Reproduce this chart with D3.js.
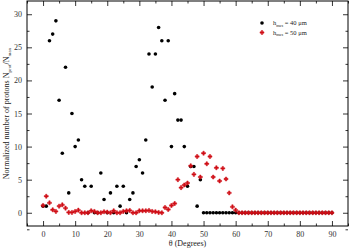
<!DOCTYPE html>
<html>
<head>
<meta charset="utf-8">
<script src="https://cdn.jsdelivr.net/npm/d3@7"></script>
<style>
  body { margin: 0; background: #fff; }
  svg { display: block; }
  .tick text { font-family: "Liberation Serif", serif; font-size: 8px; fill: #333; }
  .label { font-family: "Liberation Serif", serif; font-size: 8px; fill: #222; }
  .legend { font-family: "Liberation Serif", serif; font-size: 6.5px; fill: #222; }
</style>
</head>
<body>
<div id="app"></div>
<script>
// angles 0..90 degrees
const angles = d3.range(0, 91);

// h_max = 40 um (black)
const h40 = [1, 1, 26, 27, 29, 17, 9, 22, 3, 15,
  10, 11, 5, 4, 0, 4, 0, 0, 6, 2,
  0, 3, 0, 4, 1, 4, 0, 2, 3, 7,
  8, 6, 11, 24, 19, 24, 28, 26, 17, 26,
  10, 18, 14, 14, 10, 4, 7, 7, 1, 5,
  0, 0, 0, 0, 0, 0, 0, 0, 0, 0,
  0, 0, 0, 0, 0, 0, 0, 0, 0, 0,
  0, 0, 0, 0, 0, 0, 0, 0, 0, 0,
  0, 0, 0, 0, 0, 0, 0, 0, 0, 0, 0];

// h_max = 50 um (red)
const h50 = [1.1, 2.5, 1.5, 0.45, 0.2, 1.0, 1.2, 0.7, 0.05, 0.05,
  0.2, 0.4, 0, 0, 0, 0.3, 0.2, 0, 0, 0.15,
  0.1, 0, 0.3, 0, 0, 0.2, 0.3, 0.35, 0, 0,
  0.3, 0.3, 0.3, 0.35, 0.2, 0.15, 0.05, 0, 0.8, 0.5,
  1.1, 1.4, 5.0, 3.8, 4.2, 4.5, 7.1, 5.8, 8.5, 5.4,
  9.0, 7.4, 8.5, 5.4, 6.8, 4.8, 6.7, 5.1, 3.0, 0.9,
  0.4, 0, 0, 0, 0, 0, 0, 0, 0, 0,
  0, 0, 0, 0, 0, 0, 0, 0, 0, 0,
  0, 0, 0, 0, 0, 0, 0, 0, 0, 0, 0];

const xTicks = [0, 10, 20, 30, 40, 50, 60, 70, 80, 90];
const yTicks = [0, 5, 10, 15, 20, 25, 30];

const W = 350, H = 248;
const m = { left: 27, right: 348, top: 1, bottom: 226 };

const svg = d3.select("#app").append("svg")
    .attr("width", W)
    .attr("height", H);

const x = d3.scaleLinear().domain([-5, 95]).range([m.left, m.right]);
const y = d3.scaleLinear().domain([-2, 32]).range([m.bottom, m.top]);

// minor ticks
const xMinor = d3.range(-5, 96, 5).filter(v => v % 10 !== 0);
const yMinor = d3.range(-2.5, 32.1, 5);

function styleAxis(g) {
    g.select(".domain").remove();
    g.selectAll("line").attr("stroke", "#000").attr("stroke-width", 0.8);
}

// bottom
svg.append("g")
    .attr("transform", `translate(0,${m.bottom})`)
    .call(d3.axisBottom(x).tickValues(xTicks).tickSize(-5).tickPadding(5))
    .call(styleAxis);
svg.append("g")
    .attr("transform", `translate(0,${m.bottom})`)
    .call(d3.axisBottom(x).tickValues(xMinor).tickSize(-2.5).tickFormat(""))
    .call(styleAxis);
// top
svg.append("g")
    .attr("transform", `translate(0,${m.top})`)
    .call(d3.axisTop(x).tickValues(xTicks).tickSize(-5).tickFormat(""))
    .call(styleAxis);
svg.append("g")
    .attr("transform", `translate(0,${m.top})`)
    .call(d3.axisTop(x).tickValues(xMinor).tickSize(-2.5).tickFormat(""))
    .call(styleAxis);
// left
svg.append("g")
    .attr("transform", `translate(${m.left},0)`)
    .call(d3.axisLeft(y).tickValues(yTicks).tickSize(-5).tickPadding(5))
    .call(styleAxis);
svg.append("g")
    .attr("transform", `translate(${m.left},0)`)
    .call(d3.axisLeft(y).tickValues(yMinor).tickSize(-2.5).tickFormat(""))
    .call(styleAxis);
// right
svg.append("g")
    .attr("transform", `translate(${m.right},0)`)
    .call(d3.axisRight(y).tickValues(yTicks).tickSize(-5).tickFormat(""))
    .call(styleAxis);
svg.append("g")
    .attr("transform", `translate(${m.right},0)`)
    .call(d3.axisRight(y).tickValues(yMinor).tickSize(-2.5).tickFormat(""))
    .call(styleAxis);

// frame
svg.append("rect")
    .attr("x", m.left).attr("y", m.top)
    .attr("width", m.right - m.left).attr("height", m.bottom - m.top)
    .attr("fill", "none").attr("stroke", "#000").attr("stroke-width", 1);

// axis titles
svg.append("text")
    .attr("class", "label")
    .attr("text-anchor", "middle")
    .attr("x", (m.left + m.right) / 2)
    .attr("y", 246)
    .text("θ (Degrees)");

const yl = svg.append("text")
    .attr("class", "label")
    .attr("text-anchor", "middle")
    .attr("transform", `translate(9,${(m.top + m.bottom) / 2}) rotate(-90)`);
yl.append("tspan").text("Normalized number of protons N");
yl.append("tspan").attr("font-size", "5px").attr("dy", 2).text("prot");
yl.append("tspan").attr("dy", -2).text("/N");
yl.append("tspan").attr("font-size", "5px").attr("dy", 2).text("max");

// series
svg.append("g").selectAll("circle")
    .data(angles)
    .join("circle")
        .attr("cx", d => x(d))
        .attr("cy", (d, i) => y(h40[i]))
        .attr("r", 1.8)
        .attr("fill", "#000");

const cross = d3.symbol().type(d3.symbolCross).size(9);
svg.append("g").selectAll("path")
    .data(angles)
    .join("path")
        .attr("transform", (d, i) => `translate(${x(d)},${y(h50[i])})`)
        .attr("d", cross)
        .attr("fill", "#d01018")
        .attr("stroke", "#d01018")
        .attr("stroke-width", 0.5);

// legend
const legend = svg.append("g").attr("transform", "translate(262,23)");
legend.append("circle").attr("r", 1.8).attr("fill", "#000");
legend.append("path").attr("transform", "translate(0,9.5)").attr("d", cross)
    .attr("fill", "#d01018").attr("stroke", "#d01018").attr("stroke-width", 0.5);

[["40", 0], ["50", 9.5]].forEach(([v, dy]) => {
    const t = legend.append("text")
        .attr("class", "legend")
        .attr("x", 11)
        .attr("y", dy + 2);
    t.append("tspan").text("h");
    t.append("tspan").attr("font-size", "4px").attr("dy", 1.5).text("max");
    t.append("tspan").attr("dy", -1.5).text(" = " + v + " μm");
});
</script>
</body>
</html>
